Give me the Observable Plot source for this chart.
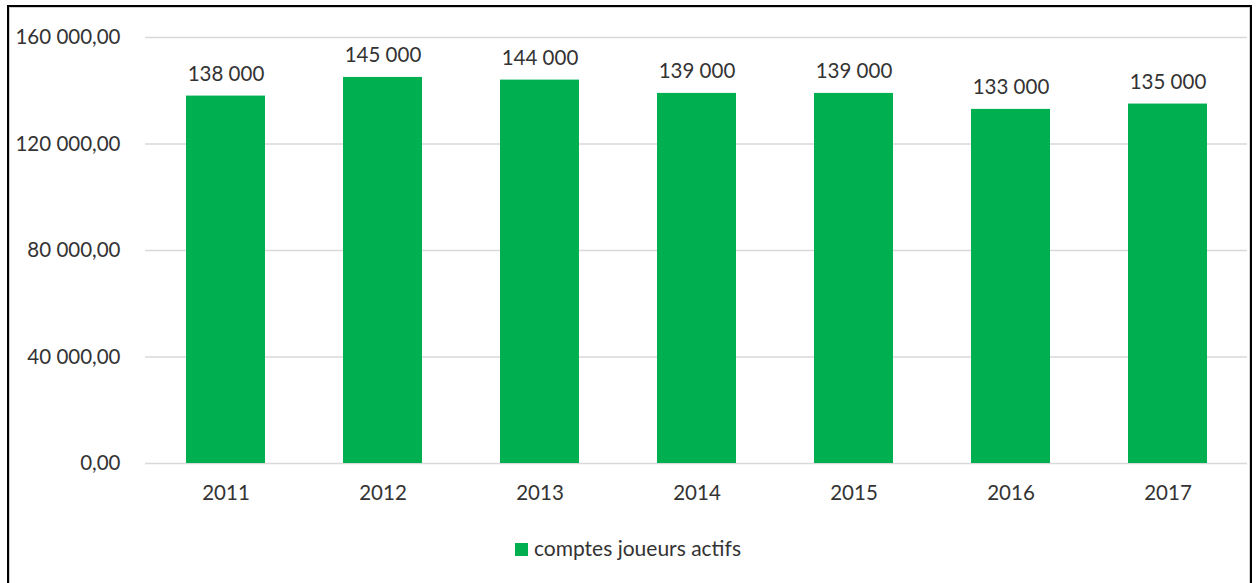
<!DOCTYPE html>
<html><head><meta charset="utf-8">
<script src="https://cdn.jsdelivr.net/npm/d3@7"></script>
<script src="https://cdn.jsdelivr.net/npm/@observablehq/plot@0.6"></script>
<style>
body{margin:0;background:#fff;font-family:Lato,"Open Sans",sans-serif;overflow:hidden;}
#wrap{position:relative;width:1256px;height:583px;}
#frame{position:absolute;left:7px;top:5px;width:1241px;height:600px;border:2px solid #000;box-shadow:inset 1px 1px 0 #d0d0d0, inset -1px 0 0 #d0d0d0;}
#legend{position:absolute;left:0;width:1256px;top:535px;text-align:center;font-size:21px;color:#333;}
#legend span.sw{display:inline-block;width:13px;height:13px;background:#00B050;margin-right:6px;vertical-align:0px;}
svg{position:absolute;left:0;top:0;}
</style></head>
<body><div id="wrap"><div id="frame"></div><div id="chart"></div><div id="legend"><span class="sw"></span>comptes joueurs actifs</div></div>
<script>
const years = ["2011","2012","2013","2014","2015","2016","2017"];
const values = [138000,145000,144000,139000,139000,133000,135000];
const yTicks = [0,40000,80000,120000,160000];
const seriesName = "comptes joueurs actifs";

const data = years.map((y,i)=>({year:y, value:values[i]}));
const loc = d3.formatLocale({decimal:",", thousands:" ", grouping:[3], currency:["",""]});
const fTick = loc.format(",.2f");
const fLab = loc.format(",d");
const FS = 20.5;

const chart = Plot.plot({
  width:1256, height:510,
  marginTop:37, marginBottom:47, marginLeft:145, marginRight:9,
  style:{fontFamily:"Lato, 'Open Sans', sans-serif", fontSize:FS+"px", color:"#333", background:"transparent"},
  x:{domain:years, paddingInner:0.5, paddingOuter:0.25, label:null},
  y:{domain:[0,160000], label:null},
  marks:[
    Plot.gridY(yTicks,{stroke:"#d9d9d9", strokeOpacity:1, strokeWidth:1.3}),
    Plot.barY(data,{x:"year", y:"value", fill:"#00B050"}),
    Plot.text(data,{x:"year", y:"value", text:d=>fLab(d.value), dy:-22, fill:"#333", fontSize:FS}),
    Plot.axisX({tickSize:0, tickPadding:22, fontSize:FS}),
    Plot.axisY({ticks:yTicks, tickFormat:fTick, tickSize:0, tickPadding:25, fontSize:FS})
  ]
});
document.getElementById("chart").appendChild(chart);
</script></body></html>
